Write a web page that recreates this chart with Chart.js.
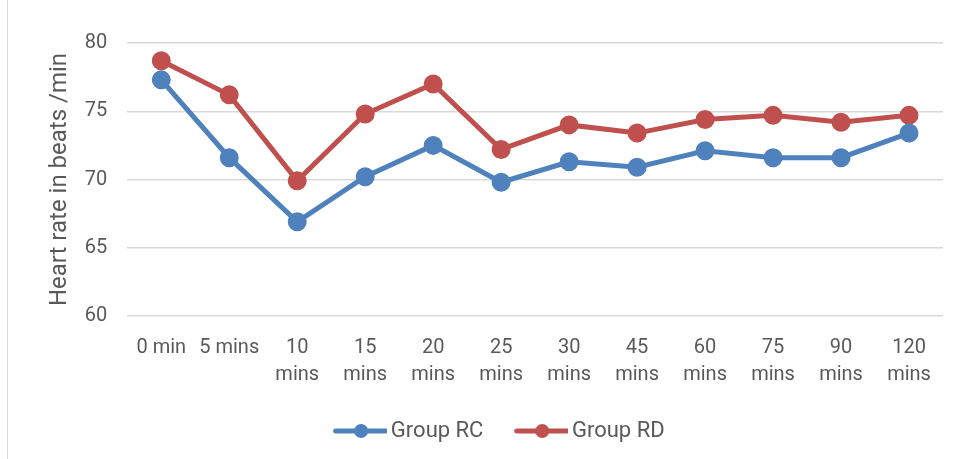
<!DOCTYPE html>
<html>
<head>
<meta charset="utf-8">
<script src="https://cdn.jsdelivr.net/npm/chart.js@4.4.1/dist/chart.umd.min.js"></script>
<style>
  html, body { margin: 0; padding: 0; background: #fff; }
  #wrap { width: 957px; height: 459px; position: relative; }
  #wrap:before { content: ""; position: absolute; left: 7px; top: 0; bottom: 0; border-left: 1px solid #d9d9d9; }
</style>
</head>
<body>
<div id="wrap"><canvas id="line-chartcanvas" width="957" height="459"></canvas></div>
<script>
// Heart rate over time, two groups

var timeLabels = ["0 min", "5 mins", ["10", "mins"], ["15", "mins"], ["20", "mins"], ["25", "mins"],
    ["30", "mins"], ["45", "mins"], ["60", "mins"], ["75", "mins"], ["90", "mins"], ["120", "mins"]];
var groupRC = [77.3, 71.6, 66.9, 70.2, 72.5, 69.8, 71.3, 70.9, 72.1, 71.6, 71.6, 73.4];
var groupRD = [78.7, 76.2, 69.9, 74.8, 77.0, 72.2, 74.0, 73.4, 74.4, 74.7, 74.2, 74.7];
var yTicks = [60, 65, 70, 75, 80];

var fontFam = "Roboto, 'Open Sans', sans-serif";
var textColor = "#595959";

// legend marker: short line with a dot, drawn off-centre so it sits close to the text
function legendMark(color) {
    var c = document.createElement("canvas");
    c.width = 70; c.height = 16;
    var g = c.getContext("2d");
    g.strokeStyle = color;
    g.lineWidth = 5;
    g.lineCap = "round";
    g.beginPath(); g.moveTo(18.5, 8); g.lineTo(69, 8); g.stroke();
    g.fillStyle = color;
    g.beginPath(); g.arc(44, 8, 7, 0, Math.PI * 2); g.fill();
    return c;
}

var ctx = document.getElementById("line-chartcanvas");

var data = {
    labels: timeLabels,
    datasets: [
        {
            label: "Group RC",
            data: groupRC,
            borderColor: "#4f81bd",
            backgroundColor: "#4f81bd",
            borderWidth: 5,
            pointRadius: 7,
            pointHoverRadius: 7,
            fill: false,
            tension: 0
        },
        {
            label: "Group RD",
            data: groupRD,
            borderColor: "#c0504d",
            backgroundColor: "#c0504d",
            borderWidth: 5,
            pointRadius: 7,
            pointHoverRadius: 7,
            fill: false,
            tension: 0
        }
    ]
};

var marks = [legendMark("#4f81bd"), legendMark("#c0504d")];

var options = {
    responsive: false,
    animation: false,
    layout: {
        padding: { left: 46, right: 14, top: 43, bottom: 7 }
    },
    plugins: {
        legend: {
            display: true,
            position: "bottom",
            labels: {
                color: textColor,
                font: { family: fontFam, size: 22, lineHeight: 1.1 },
                usePointStyle: true,
                pointStyleWidth: 55.5,
                boxHeight: 16,
                padding: 22,
                generateLabels: function(chart) {
                    return chart.data.datasets.map(function(ds, i) {
                        return {
                            text: ds.label,
                            fillStyle: ds.borderColor,
                            strokeStyle: ds.borderColor,
                            pointStyle: marks[i],
                            fontColor: textColor,
                            datasetIndex: i
                        };
                    });
                }
            }
        },
        tooltip: { enabled: false }
    },
    scales: {
        x: {
            offset: true,
            grid: { display: false },
            border: { display: false },
            ticks: {
                color: textColor,
                font: { family: fontFam, size: 20, lineHeight: 1.35 },
                maxRotation: 0,
                autoSkip: false,
                padding: 10
            }
        },
        y: {
            min: 60,
            max: 80,
            afterBuildTicks: function(axis) {
                axis.ticks = yTicks.map(function(v) { return { value: v }; });
            },
            grid: { color: "#d9d9d9", lineWidth: 1.5, drawTicks: false },
            border: { display: false },
            ticks: {
                color: textColor,
                font: { family: fontFam, size: 20 },
                padding: 20
            },
            title: {
                display: true,
                text: "Heart rate in beats /min",
                color: textColor,
                font: { family: fontFam, size: 24 },
                padding: { top: 0, bottom: -10 }
            }
        }
    }
};

var chart = new Chart(ctx, {
    type: "line",
    data: data,
    options: options
});
</script>
</body>
</html>
